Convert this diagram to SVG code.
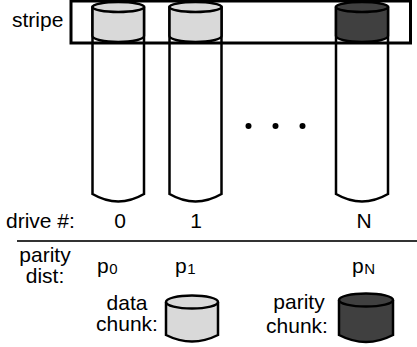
<svg xmlns="http://www.w3.org/2000/svg" width="417" height="347" viewBox="0 0 417 347">
  <style>
    text { font-family: "Liberation Sans", Arial, sans-serif; font-size: 21px; fill: #000; }
    .mid { text-anchor: middle; }
    .tube { fill: #fff; stroke: #000; stroke-width: 2.5; }
    .data { fill: #d9d9d9; stroke: #000; stroke-width: 2.5; }
    .parity { fill: #404040; stroke: #000; stroke-width: 2.5; }
    .sub { font-size: 15px; }
  </style>

  <rect width="417" height="347" fill="#fff"/>

  <!-- drive 0 -->
  <g id="drive0">
    <path class="tube" d="M92.5,7 V194 Q118.3,209 144,194 V7"/>
    <path class="data" d="M92.5,7 V36 A25.75,6 0 0 0 144,36 V7 Z"/>
    <ellipse class="data" cx="118.3" cy="7" rx="25.75" ry="5"/>
  </g>

  <!-- drive 1 -->
  <g id="drive1">
    <path class="tube" d="M169.5,7 V194 Q195.5,209 221.5,194 V7"/>
    <path class="data" d="M169.5,7 V36 A26,6 0 0 0 221.5,36 V7 Z"/>
    <ellipse class="data" cx="195.5" cy="7" rx="26" ry="5"/>
  </g>

  <!-- drive N -->
  <g id="driveN">
    <path class="tube" d="M336,7 V194 Q362,209 388,194 V7"/>
    <path class="parity" d="M336,7 V36 A26,6 0 0 0 388,36 V7 Z"/>
    <ellipse class="parity" cx="362" cy="7" rx="26" ry="5"/>
  </g>

  <!-- stripe frame -->
  <g id="stripe">
    <rect x="71" y="1" width="339.5" height="42" fill="none" stroke="#000" stroke-width="3"/>
    <text x="12" y="27">stripe</text>
  </g>

  <!-- ellipsis between drives -->
  <g id="ellipsis" fill="#000">
    <circle cx="248.5" cy="126" r="3"/>
    <circle cx="275.5" cy="126" r="3"/>
    <circle cx="302.5" cy="126" r="3"/>
  </g>

  <!-- drive numbering row -->
  <g id="drive-numbers">
    <text x="6" y="228">drive #:</text>
    <text class="mid" x="120" y="228">0</text>
    <text class="mid" x="196" y="228">1</text>
    <text class="mid" x="364" y="228">N</text>
  </g>

  <line x1="17" y1="241" x2="417" y2="241" stroke="#333" stroke-width="2"/>

  <!-- parity distribution row -->
  <g id="parity-dist">
    <text class="mid" x="45" y="262">parity</text>
    <text class="mid" x="45" y="283">dist:</text>
    <text x="97" y="273">p<tspan class="sub" dx="0.5" dy="1">0</tspan></text>
    <text x="175" y="273">p<tspan class="sub" dx="0.5" dy="1">1</tspan></text>
    <text x="352" y="273">p<tspan class="sub" dx="0.5" dy="1">N</tspan></text>
  </g>

  <!-- legend: data chunk -->
  <g id="legend-data">
    <text class="mid" x="127" y="310">data</text>
    <text class="mid" x="127" y="331">chunk:</text>
    <path class="data" d="M166,302 V335 Q192,348 218,335 V302"/>
    <ellipse class="data" cx="192" cy="302" rx="26" ry="6.5"/>
  </g>

  <!-- legend: parity chunk -->
  <g id="legend-parity">
    <text class="mid" x="299" y="309">parity</text>
    <text class="mid" x="297" y="333">chunk:</text>
    <path class="parity" d="M339,300 V335 Q366,349 393,335 V300"/>
    <ellipse class="parity" cx="366" cy="300" rx="27" ry="6.5"/>
  </g>
</svg>
